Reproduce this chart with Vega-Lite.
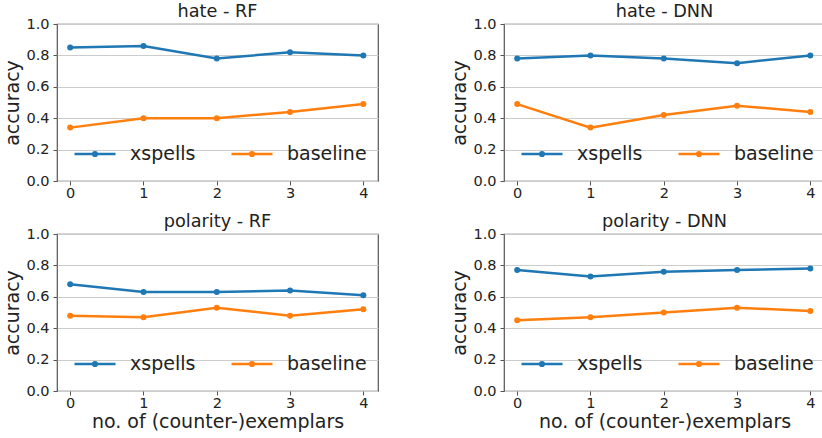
{
  "$schema": "https://vega.github.io/schema/vega-lite/v6.json",
  "padding": {"left": 3, "top": 2, "right": 0, "bottom": 0},
  "background": "white",
  "config": {
    "font": "DejaVu Sans",
    "view": {"stroke": "#555555", "strokeWidth": 1.2},
    "axis": {
      "domain": false,
      "tickColor": "#555555",
      "tickSize": 4,
      "labelColor": "#222222",
      "labelFontSize": 14.5,
      "titleColor": "#222222",
      "titleFontSize": 19,
      "titleFontWeight": "normal",
      "gridColor": "#cccccc",
      "gridWidth": 1
    },
    "axisX": {"labelPadding": 1},
    "axisY": {"labelPadding": 4},
    "title": {"fontSize": 17.7, "fontWeight": "normal", "color": "#222222", "offset": -5},
    "legend": {"labelFontSize": 19, "labelColor": "#222222"}
  },
  "data": {
    "values": [
      {"panel": "hate - RF", "method": "xspells", "k": 0, "accuracy": 0.85},
      {"panel": "hate - RF", "method": "xspells", "k": 1, "accuracy": 0.86},
      {"panel": "hate - RF", "method": "xspells", "k": 2, "accuracy": 0.78},
      {"panel": "hate - RF", "method": "xspells", "k": 3, "accuracy": 0.82},
      {"panel": "hate - RF", "method": "xspells", "k": 4, "accuracy": 0.80},
      {"panel": "hate - RF", "method": "baseline", "k": 0, "accuracy": 0.34},
      {"panel": "hate - RF", "method": "baseline", "k": 1, "accuracy": 0.40},
      {"panel": "hate - RF", "method": "baseline", "k": 2, "accuracy": 0.40},
      {"panel": "hate - RF", "method": "baseline", "k": 3, "accuracy": 0.44},
      {"panel": "hate - RF", "method": "baseline", "k": 4, "accuracy": 0.49},
      {"panel": "hate - DNN", "method": "xspells", "k": 0, "accuracy": 0.78},
      {"panel": "hate - DNN", "method": "xspells", "k": 1, "accuracy": 0.80},
      {"panel": "hate - DNN", "method": "xspells", "k": 2, "accuracy": 0.78},
      {"panel": "hate - DNN", "method": "xspells", "k": 3, "accuracy": 0.75},
      {"panel": "hate - DNN", "method": "xspells", "k": 4, "accuracy": 0.80},
      {"panel": "hate - DNN", "method": "baseline", "k": 0, "accuracy": 0.49},
      {"panel": "hate - DNN", "method": "baseline", "k": 1, "accuracy": 0.34},
      {"panel": "hate - DNN", "method": "baseline", "k": 2, "accuracy": 0.42},
      {"panel": "hate - DNN", "method": "baseline", "k": 3, "accuracy": 0.48},
      {"panel": "hate - DNN", "method": "baseline", "k": 4, "accuracy": 0.44},
      {"panel": "polarity - RF", "method": "xspells", "k": 0, "accuracy": 0.68},
      {"panel": "polarity - RF", "method": "xspells", "k": 1, "accuracy": 0.63},
      {"panel": "polarity - RF", "method": "xspells", "k": 2, "accuracy": 0.63},
      {"panel": "polarity - RF", "method": "xspells", "k": 3, "accuracy": 0.64},
      {"panel": "polarity - RF", "method": "xspells", "k": 4, "accuracy": 0.61},
      {"panel": "polarity - RF", "method": "baseline", "k": 0, "accuracy": 0.48},
      {"panel": "polarity - RF", "method": "baseline", "k": 1, "accuracy": 0.47},
      {"panel": "polarity - RF", "method": "baseline", "k": 2, "accuracy": 0.53},
      {"panel": "polarity - RF", "method": "baseline", "k": 3, "accuracy": 0.48},
      {"panel": "polarity - RF", "method": "baseline", "k": 4, "accuracy": 0.52},
      {"panel": "polarity - DNN", "method": "xspells", "k": 0, "accuracy": 0.77},
      {"panel": "polarity - DNN", "method": "xspells", "k": 1, "accuracy": 0.73},
      {"panel": "polarity - DNN", "method": "xspells", "k": 2, "accuracy": 0.76},
      {"panel": "polarity - DNN", "method": "xspells", "k": 3, "accuracy": 0.77},
      {"panel": "polarity - DNN", "method": "xspells", "k": 4, "accuracy": 0.78},
      {"panel": "polarity - DNN", "method": "baseline", "k": 0, "accuracy": 0.45},
      {"panel": "polarity - DNN", "method": "baseline", "k": 1, "accuracy": 0.47},
      {"panel": "polarity - DNN", "method": "baseline", "k": 2, "accuracy": 0.50},
      {"panel": "polarity - DNN", "method": "baseline", "k": 3, "accuracy": 0.53},
      {"panel": "polarity - DNN", "method": "baseline", "k": 4, "accuracy": 0.51}
    ]
  },
  "resolve": {"legend": {"color": "independent"}},
  "spacing": 11,
  "vconcat": [
    {
      "hconcat": [
        {
          "width": 321, "height": 157,
          "title": {"text": "hate - RF", "fontWeight": "normal"},
          "transform": [{"filter": "datum.panel == 'hate - RF'"}],
          "encoding": {
            "x": {"field": "k", "type": "quantitative", "scale": {"domain": [-0.18, 4.2], "nice": false, "zero": false}, "axis": {"values": [0, 1, 2, 3, 4], "grid": false, "title": null}},
            "y": {"field": "accuracy", "type": "quantitative", "scale": {"domain": [0, 1], "nice": false}, "axis": {"values": [0, 0.2, 0.4, 0.6, 0.8, 1.0], "format": ".1f", "grid": true, "title": "accuracy", "titlePadding": 3}},
            "color": {"field": "method", "type": "nominal", "scale": {"domain": ["xspells", "baseline"], "range": ["#1f77b4", "#ff7f0e"]}, "legend": {"title": null, "orient": "none", "legendX": 16, "legendY": 108, "direction": "horizontal", "symbolType": "M-1,0H1M-0.09,0A0.09,0.09,0,1,0,0.09,0A0.09,0.09,0,1,0,-0.09,0", "symbolSize": 1681, "symbolStrokeWidth": 2.5, "labelOffset": 13, "columnPadding": 30}}
          },
          "layer": [
            {"mark": {"type": "line", "strokeWidth": 2.5}},
            {"mark": {"type": "point", "filled": true, "size": 36, "opacity": 1}}
          ]
        },
        {
          "width": 321, "height": 157,
          "title": {"text": "hate - DNN", "fontWeight": "normal"},
          "transform": [{"filter": "datum.panel == 'hate - DNN'"}],
          "encoding": {
            "x": {"field": "k", "type": "quantitative", "scale": {"domain": [-0.18, 4.2], "nice": false, "zero": false}, "axis": {"values": [0, 1, 2, 3, 4], "grid": false, "title": null}},
            "y": {"field": "accuracy", "type": "quantitative", "scale": {"domain": [0, 1], "nice": false}, "axis": {"values": [0, 0.2, 0.4, 0.6, 0.8, 1.0], "format": ".1f", "grid": true, "title": "accuracy", "titlePadding": 3}},
            "color": {"field": "method", "type": "nominal", "scale": {"domain": ["xspells", "baseline"], "range": ["#1f77b4", "#ff7f0e"]}, "legend": {"title": null, "orient": "none", "legendX": 16, "legendY": 108, "direction": "horizontal", "symbolType": "M-1,0H1M-0.09,0A0.09,0.09,0,1,0,0.09,0A0.09,0.09,0,1,0,-0.09,0", "symbolSize": 1681, "symbolStrokeWidth": 2.5, "labelOffset": 13, "columnPadding": 30}}
          },
          "layer": [
            {"mark": {"type": "line", "strokeWidth": 2.5}},
            {"mark": {"type": "point", "filled": true, "size": 36, "opacity": 1}}
          ]
        }
      ],
      "spacing": 71,
      "resolve": {"legend": {"color": "independent"}}
    },
    {
      "hconcat": [
        {
          "width": 321, "height": 157,
          "title": {"text": "polarity - RF", "fontWeight": "normal"},
          "transform": [{"filter": "datum.panel == 'polarity - RF'"}],
          "encoding": {
            "x": {"field": "k", "type": "quantitative", "scale": {"domain": [-0.18, 4.2], "nice": false, "zero": false}, "axis": {"values": [0, 1, 2, 3, 4], "grid": false, "title": "no. of (counter-)exemplars", "titlePadding": 3}},
            "y": {"field": "accuracy", "type": "quantitative", "scale": {"domain": [0, 1], "nice": false}, "axis": {"values": [0, 0.2, 0.4, 0.6, 0.8, 1.0], "format": ".1f", "grid": true, "title": "accuracy", "titlePadding": 3}},
            "color": {"field": "method", "type": "nominal", "scale": {"domain": ["xspells", "baseline"], "range": ["#1f77b4", "#ff7f0e"]}, "legend": {"title": null, "orient": "none", "legendX": 16, "legendY": 108, "direction": "horizontal", "symbolType": "M-1,0H1M-0.09,0A0.09,0.09,0,1,0,0.09,0A0.09,0.09,0,1,0,-0.09,0", "symbolSize": 1681, "symbolStrokeWidth": 2.5, "labelOffset": 13, "columnPadding": 30}}
          },
          "layer": [
            {"mark": {"type": "line", "strokeWidth": 2.5}},
            {"mark": {"type": "point", "filled": true, "size": 36, "opacity": 1}}
          ]
        },
        {
          "width": 321, "height": 157,
          "title": {"text": "polarity - DNN", "fontWeight": "normal"},
          "transform": [{"filter": "datum.panel == 'polarity - DNN'"}],
          "encoding": {
            "x": {"field": "k", "type": "quantitative", "scale": {"domain": [-0.18, 4.2], "nice": false, "zero": false}, "axis": {"values": [0, 1, 2, 3, 4], "grid": false, "title": "no. of (counter-)exemplars", "titlePadding": 3}},
            "y": {"field": "accuracy", "type": "quantitative", "scale": {"domain": [0, 1], "nice": false}, "axis": {"values": [0, 0.2, 0.4, 0.6, 0.8, 1.0], "format": ".1f", "grid": true, "title": "accuracy", "titlePadding": 3}},
            "color": {"field": "method", "type": "nominal", "scale": {"domain": ["xspells", "baseline"], "range": ["#1f77b4", "#ff7f0e"]}, "legend": {"title": null, "orient": "none", "legendX": 16, "legendY": 108, "direction": "horizontal", "symbolType": "M-1,0H1M-0.09,0A0.09,0.09,0,1,0,0.09,0A0.09,0.09,0,1,0,-0.09,0", "symbolSize": 1681, "symbolStrokeWidth": 2.5, "labelOffset": 13, "columnPadding": 30}}
          },
          "layer": [
            {"mark": {"type": "line", "strokeWidth": 2.5}},
            {"mark": {"type": "point", "filled": true, "size": 36, "opacity": 1}}
          ]
        }
      ],
      "spacing": 71,
      "resolve": {"legend": {"color": "independent"}}
    }
  ]
}
